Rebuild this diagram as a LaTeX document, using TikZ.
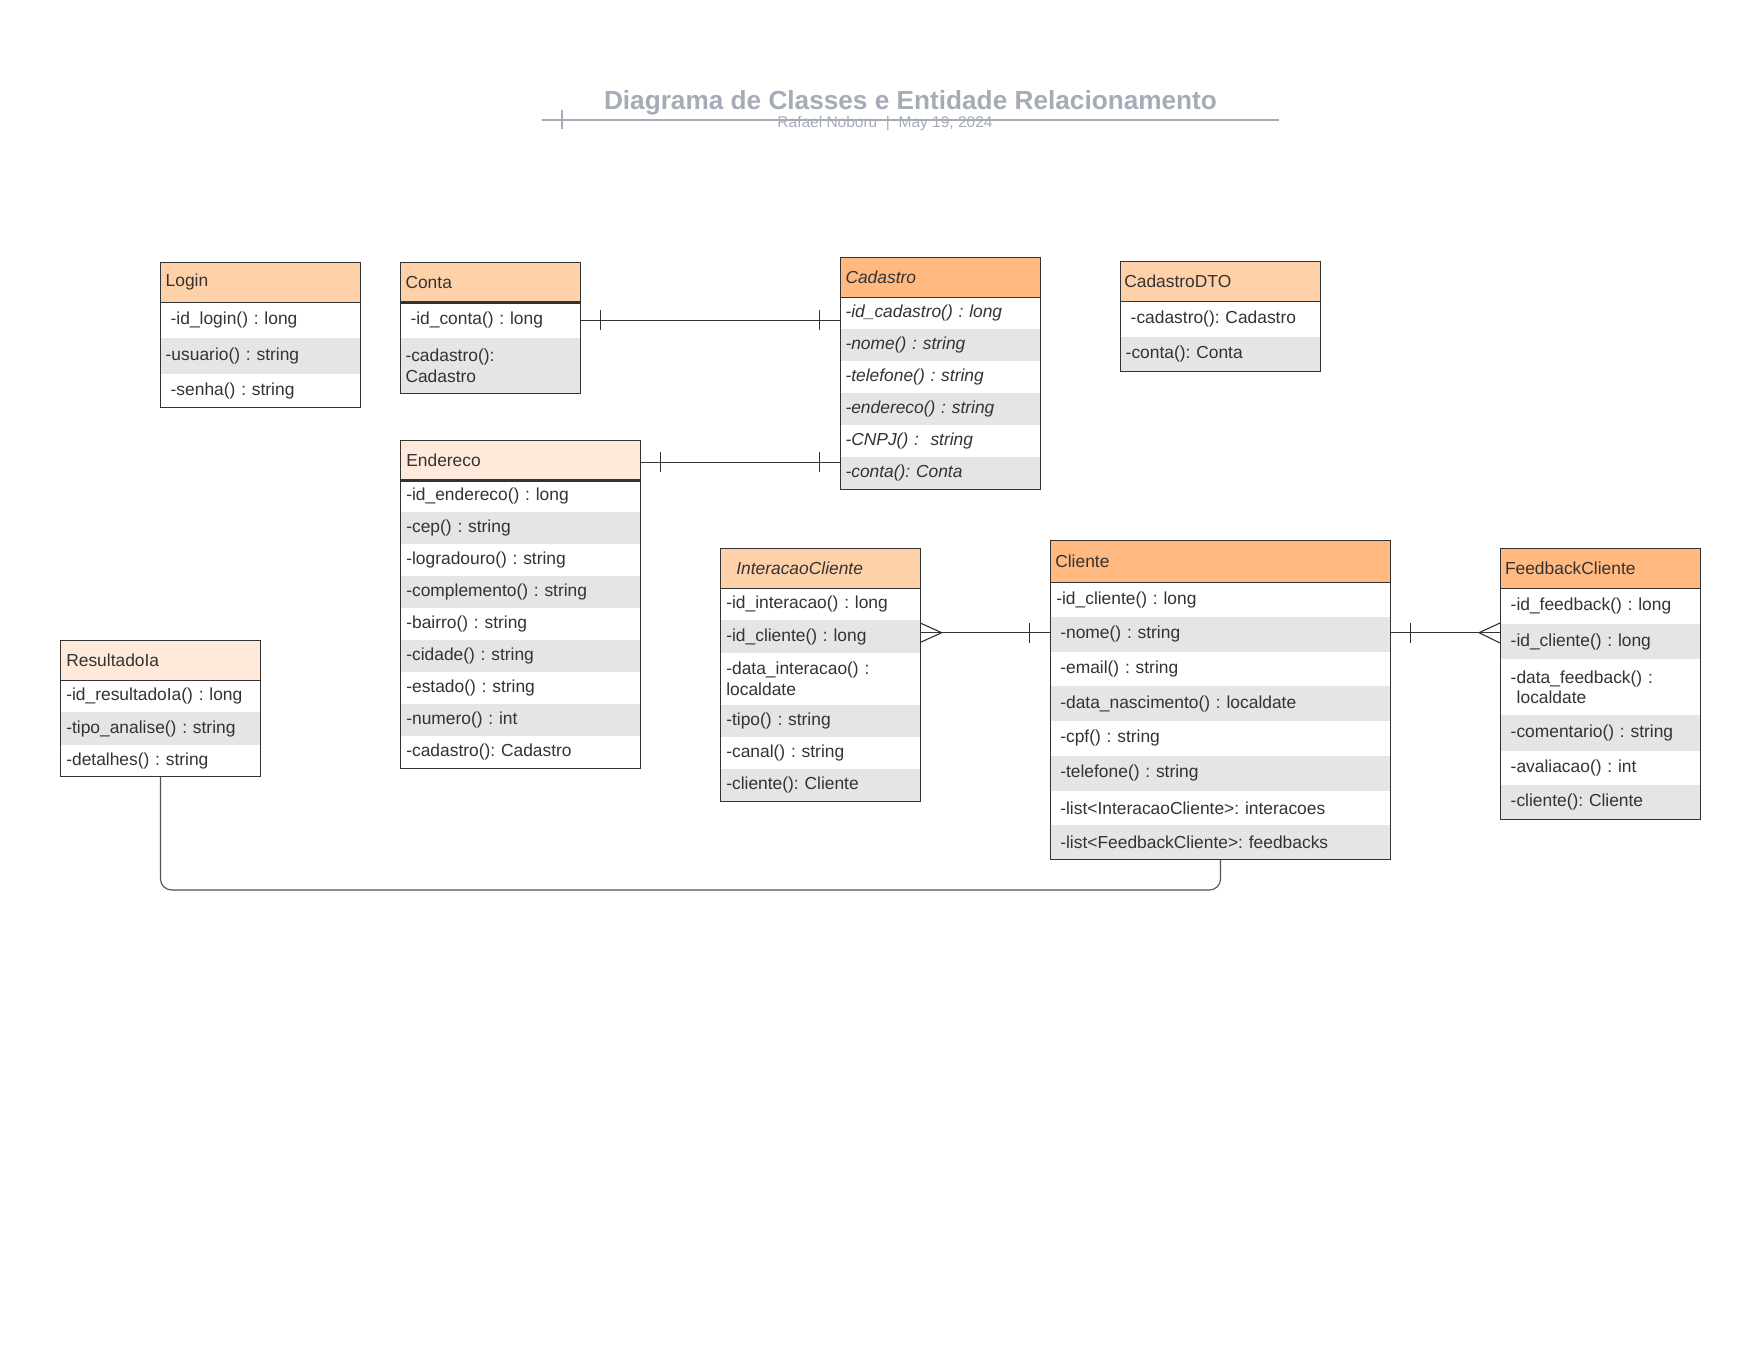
\documentclass[tikz,border=0pt]{standalone}
\usepackage{fontspec}
\setmainfont{Liberation Sans}
\usetikzlibrary{calc}
\definecolor{txt}{HTML}{333333}
\definecolor{lo}{HTML}{FFD1A9}
\definecolor{do}{HTML}{FFB981}
\definecolor{vlo}{HTML}{FFE9DB}
\definecolor{rowgray}{HTML}{E5E5E5}
\definecolor{ttl}{HTML}{A6ABB8}
\newcommand\cellfont{\fontsize{17.4}{20.7}\selectfont\frenchspacing}
\tikzset{
  cell/.style={anchor=north west, inner xsep=0pt, inner ysep=0pt, outer sep=0pt, align=left, font=\cellfont, text=txt, draw=none},
  border/.style={draw=txt, line width=1.1pt},
  thickborder/.style={draw=txt, line width=2.4pt},
  link/.style={draw=txt, line width=1.1pt},
  softlink/.style={draw=txt!85, line width=1.1pt, rounded corners=11pt},
}
\begin{document}
\frenchspacing
\begin{tikzpicture}[x=1pt,y=-1pt]
\useasboundingbox (0,0) rectangle (1759,1359);
\fill[white] (0,0) rectangle (1759,1359);

% ---------- title ----------
\node[anchor=base, inner sep=0pt, text=ttl, font=\fontsize{26.2}{30}\selectfont\bfseries] (title) at (910.5,110) {Diagrama de Classes e Entidade Relacionamento};
\node[anchor=base, inner sep=0pt, text=ttl, font=\fontsize{15.5}{18}\selectfont] (subtitle) at (885,128) {Rafael Noboru~~|~~May 19, 2024};
\coordinate (tl) at (541.7,120);
\coordinate (tr) at (1279,120);
\draw[draw=ttl, line width=2pt] (tl) -- (tr);
\draw[draw=ttl, line width=1.6pt] (562,110) -- (562,129.3);

% ---------- Login ----------
\node[cell,fill=lo,text width=200pt,minimum height=40pt] (login-h) at (160.7,262.3) {\hspace*{5pt}Login};
\node[cell,fill=white,text width=200pt,minimum height=36pt] (login-1) at (160.7,302.3) {\hspace*{10pt}-id\_login() : long};
\node[cell,fill=rowgray,text width=200pt,minimum height=36pt] (login-2) at (160.7,338.3) {\hspace*{5pt}-usuario() : string};
\node[cell,fill=white,text width=200pt,minimum height=33pt] (login-3) at (160.7,374.3) {\hspace*{10pt}-senha() : string};
\draw[border] (login-h.north west) rectangle (login-3.south east);
\draw[border] (login-h.south west) -- (login-h.south east);

% ---------- Conta ----------
\node[cell,fill=lo,text width=180pt,minimum height=40pt] (conta-h) at (400.5,262.3) {\hspace*{5pt}Conta};
\node[cell,fill=white,text width=180pt,minimum height=36pt] (conta-1) at (400.5,302.3) {\hspace*{10pt}-id\_conta() : long};
\node[cell,fill=rowgray,text width=180pt,minimum height=55pt] (conta-2) at (400.5,338.3) {\hspace*{5pt}-cadastro():\\\hspace*{5pt}Cadastro};
\draw[border] (conta-h.north west) rectangle (conta-2.south east);
\draw[thickborder] (conta-h.south west) -- (conta-h.south east);

% ---------- Cadastro ----------
\node[cell,fill=do,text width=200pt,minimum height=40pt] (cad-h) at (840.5,257.3) {\hspace*{5pt}\itshape Cadastro};
\node[cell,fill=white,text width=200pt,minimum height=32pt] (cad-1) at (840.5,297.3) {\hspace*{5pt}\itshape -id\_cadastro() : long};
\node[cell,fill=rowgray,text width=200pt,minimum height=32pt] (cad-2) at (840.5,329.3) {\hspace*{5pt}\itshape -nome() : string};
\node[cell,fill=white,text width=200pt,minimum height=32pt] (cad-3) at (840.5,361.3) {\hspace*{5pt}\itshape -telefone() : string};
\node[cell,fill=rowgray,text width=200pt,minimum height=32pt] (cad-4) at (840.5,393.3) {\hspace*{5pt}\itshape -endereco() : string};
\node[cell,fill=white,text width=200pt,minimum height=32pt] (cad-5) at (840.5,425.3) {\hspace*{5pt}\itshape -CNPJ() :~~string};
\node[cell,fill=rowgray,text width=200pt,minimum height=32pt] (cad-6) at (840.5,457.3) {\hspace*{5pt}\itshape -conta(): Conta};
\draw[border] (cad-h.north west) rectangle (cad-6.south east);
\draw[border] (cad-h.south west) -- (cad-h.south east);

% ---------- CadastroDTO ----------
\node[cell,fill=lo,text width=200pt,minimum height=40pt] (dto-h) at (1120.7,261.3) {\hspace*{3.6pt}CadastroDTO};
\node[cell,fill=white,text width=200pt,minimum height=36pt] (dto-1) at (1120.7,301.3) {\hspace*{10pt}-cadastro(): Cadastro};
\node[cell,fill=rowgray,text width=200pt,minimum height=34pt] (dto-2) at (1120.7,337.3) {\hspace*{5pt}-conta(): Conta};
\draw[border] (dto-h.north west) rectangle (dto-2.south east);
\draw[border] (dto-h.south west) -- (dto-h.south east);

% ---------- Endereco ----------
\node[cell,fill=vlo,text width=240.4pt,minimum height=40pt] (end-h) at (400.3,440.3) {\hspace*{6pt}Endereco};
\node[cell,fill=white,text width=240.4pt,minimum height=32pt] (end-1) at (400.3,480) {\hspace*{6pt}-id\_endereco() : long};
\node[cell,fill=rowgray,text width=240.4pt,minimum height=32pt] (end-2) at (400.3,512) {\hspace*{6pt}-cep() : string};
\node[cell,fill=white,text width=240.4pt,minimum height=32pt] (end-3) at (400.3,544) {\hspace*{6pt}-logradouro() : string};
\node[cell,fill=rowgray,text width=240.4pt,minimum height=32pt] (end-4) at (400.3,576) {\hspace*{6pt}-complemento() : string};
\node[cell,fill=white,text width=240.4pt,minimum height=32pt] (end-5) at (400.3,608) {\hspace*{6pt}-bairro() : string};
\node[cell,fill=rowgray,text width=240.4pt,minimum height=32pt] (end-6) at (400.3,640) {\hspace*{6pt}-cidade() : string};
\node[cell,fill=white,text width=240.4pt,minimum height=32pt] (end-7) at (400.3,672) {\hspace*{6pt}-estado() : string};
\node[cell,fill=rowgray,text width=240.4pt,minimum height=32pt] (end-8) at (400.3,704) {\hspace*{6pt}-numero() : int};
\node[cell,fill=white,text width=240.4pt,minimum height=32.3pt] (end-9) at (400.3,736) {\hspace*{6pt}-cadastro(): Cadastro};
\draw[border] (end-h.north west) rectangle (end-9.south east);
\draw[thickborder] (end-h.south west) -- (end-h.south east);

% ---------- ResultadoIa ----------
\node[cell,fill=vlo,text width=200.4pt,minimum height=40pt] (res-h) at (60.3,640.3) {\hspace*{6pt}ResultadoIa};
\node[cell,fill=white,text width=200.4pt,minimum height=32pt] (res-1) at (60.3,680) {\hspace*{6pt}-id\_resultadoIa() : long};
\node[cell,fill=rowgray,text width=200.4pt,minimum height=33pt] (res-2) at (60.3,712) {\hspace*{6pt}-tipo\_analise() : string};
\node[cell,fill=white,text width=200.4pt,minimum height=31.7pt] (res-3) at (60.3,745) {\hspace*{6pt}-detalhes() : string};
\draw[border] (res-h.north west) rectangle (res-3.south east);
\draw[border] (res-h.south west) -- (res-h.south east);

% ---------- InteracaoCliente ----------
\node[cell,fill=lo,text width=200.4pt,minimum height=40pt] (ic-h) at (720.3,548.3) {\hspace*{16pt}\itshape InteracaoCliente};
\node[cell,fill=white,text width=200.4pt,minimum height=32pt] (ic-1) at (720.3,588.3) {\hspace*{6pt}-id\_interacao() : long};
\node[cell,fill=rowgray,text width=200.4pt,minimum height=32.4pt] (ic-2) at (720.3,620.3) {\hspace*{6pt}-id\_cliente() : long};
\node[cell,fill=white,text width=200.4pt,minimum height=52.3pt] (ic-3) at (720.3,652.7) {\hspace*{6pt}-data\_interacao() :\\\hspace*{6pt}localdate};
\node[cell,fill=rowgray,text width=200.4pt,minimum height=32.3pt] (ic-4) at (720.3,705) {\hspace*{6pt}-tipo() : string};
\node[cell,fill=white,text width=200.4pt,minimum height=31.7pt] (ic-5) at (720.3,737.3) {\hspace*{6pt}-canal() : string};
\node[cell,fill=rowgray,text width=200.4pt,minimum height=32.7pt] (ic-6) at (720.3,769) {\hspace*{6pt}-cliente(): Cliente};
\draw[border] (ic-h.north west) rectangle (ic-6.south east);
\draw[border] (ic-h.south west) -- (ic-h.south east);

% ---------- Cliente ----------
\node[cell,fill=do,text width=340.4pt,minimum height=42pt] (cli-h) at (1050.3,540.3) {\hspace*{5pt}Cliente};
\node[cell,fill=white,text width=340.4pt,minimum height=34.7pt] (cli-1) at (1050.3,582.3) {\hspace*{6pt}-id\_cliente() : long};
\node[cell,fill=rowgray,text width=340.4pt,minimum height=34.7pt] (cli-2) at (1050.3,617) {\hspace*{10pt}-nome() : string};
\node[cell,fill=white,text width=340.4pt,minimum height=34.7pt] (cli-3) at (1050.3,651.7) {\hspace*{10pt}-email() : string};
\node[cell,fill=rowgray,text width=340.4pt,minimum height=34.7pt] (cli-4) at (1050.3,686.4) {\hspace*{10pt}-data\_nascimento() : localdate};
\node[cell,fill=white,text width=340.4pt,minimum height=34.7pt] (cli-5) at (1050.3,721.1) {\hspace*{10pt}-cpf() : string};
\node[cell,fill=rowgray,text width=340.4pt,minimum height=34.7pt] (cli-6) at (1050.3,755.8) {\hspace*{10pt}-telefone() : string};
\node[cell,fill=white,text width=340.4pt,minimum height=34.7pt] (cli-7) at (1050.3,790.5) {\hspace*{10pt}-list<InteracaoCliente>: interacoes};
\node[cell,fill=rowgray,text width=340.4pt,minimum height=34.7pt] (cli-8) at (1050.3,825.2) {\hspace*{10pt}-list<FeedbackCliente>: feedbacks};
\draw[border] (cli-h.north west) rectangle (cli-8.south east);
\draw[border] (cli-h.south west) -- (cli-h.south east);

% ---------- FeedbackCliente ----------
\node[cell,fill=do,text width=200pt,minimum height=40pt] (fb-h) at (1500.7,548.3) {\hspace*{4.3pt}FeedbackCliente};
\node[cell,fill=white,text width=200pt,minimum height=35.7pt] (fb-1) at (1500.7,588.3) {\hspace*{10pt}-id\_feedback() : long};
\node[cell,fill=rowgray,text width=200pt,minimum height=35.3pt] (fb-2) at (1500.7,624) {\hspace*{10pt}-id\_cliente() : long};
\node[cell,fill=white,text width=200pt,minimum height=55.7pt] (fb-3) at (1500.7,659.3) {\hspace*{10pt}-data\_feedback() :\\\hspace*{16pt}localdate};
\node[cell,fill=rowgray,text width=200pt,minimum height=35.7pt] (fb-4) at (1500.7,715) {\hspace*{10pt}-comentario() : string};
\node[cell,fill=white,text width=200pt,minimum height=34.3pt] (fb-5) at (1500.7,750.7) {\hspace*{10pt}-avaliacao() : int};
\node[cell,fill=rowgray,text width=200pt,minimum height=34.3pt] (fb-6) at (1500.7,785) {\hspace*{10pt}-cliente(): Cliente};
\draw[border] (fb-h.north west) rectangle (fb-6.south east);
\draw[border] (fb-h.south west) -- (fb-h.south east);

% ---------- connectors ----------
\coordinate (y1) at (0,320.3);
\coordinate (y2) at (0,462.3);
\coordinate (y3) at (0,632.7);
\coordinate (bend) at (1220.5,890);

% Conta -- Cadastro (one to one)
\draw[link] (conta-1.east |- y1) -- (cad-1.west |- y1);
\draw[link] ($(conta-1.east |- y1)+(19.8,-10)$) -- ++(0,20);
\draw[link] ($(cad-1.west |- y1)+(-21.2,-10)$) -- ++(0,20);

% Endereco -- Cadastro (one to one)
\draw[link] (end-h.east |- y2) -- (cad-6.west |- y2);
\draw[link] ($(end-h.east |- y2)+(19.6,-10)$) -- ++(0,20);
\draw[link] ($(cad-6.west |- y2)+(-21.2,-10)$) -- ++(0,20);

% InteracaoCliente >-- Cliente (many to one)
\draw[link] (ic-2.east |- y3) -- (cli-2.west |- y3);
\draw[link] ($(ic-2.east |- y3)+(0,-9.5)$) -- ($(ic-2.east |- y3)+(21,0)$) -- ($(ic-2.east |- y3)+(0,9.5)$);
\draw[link] ($(cli-2.west |- y3)+(-21,-10)$) -- ++(0,20);

% Cliente --< FeedbackCliente (one to many)
\draw[link] (cli-2.east |- y3) -- (fb-2.west |- y3);
\draw[link] ($(cli-2.east |- y3)+(19.6,-10)$) -- ++(0,20);
\draw[link] ($(fb-2.west |- y3)+(0,-10)$) -- ($(fb-2.west |- y3)+(-21.7,0)$) -- ($(fb-2.west |- y3)+(0,10.6)$);

% ResultadoIa -- Cliente
\draw[softlink] (res-3.south) |- (bend) -- (cli-8.south);
\end{tikzpicture}
\end{document}
